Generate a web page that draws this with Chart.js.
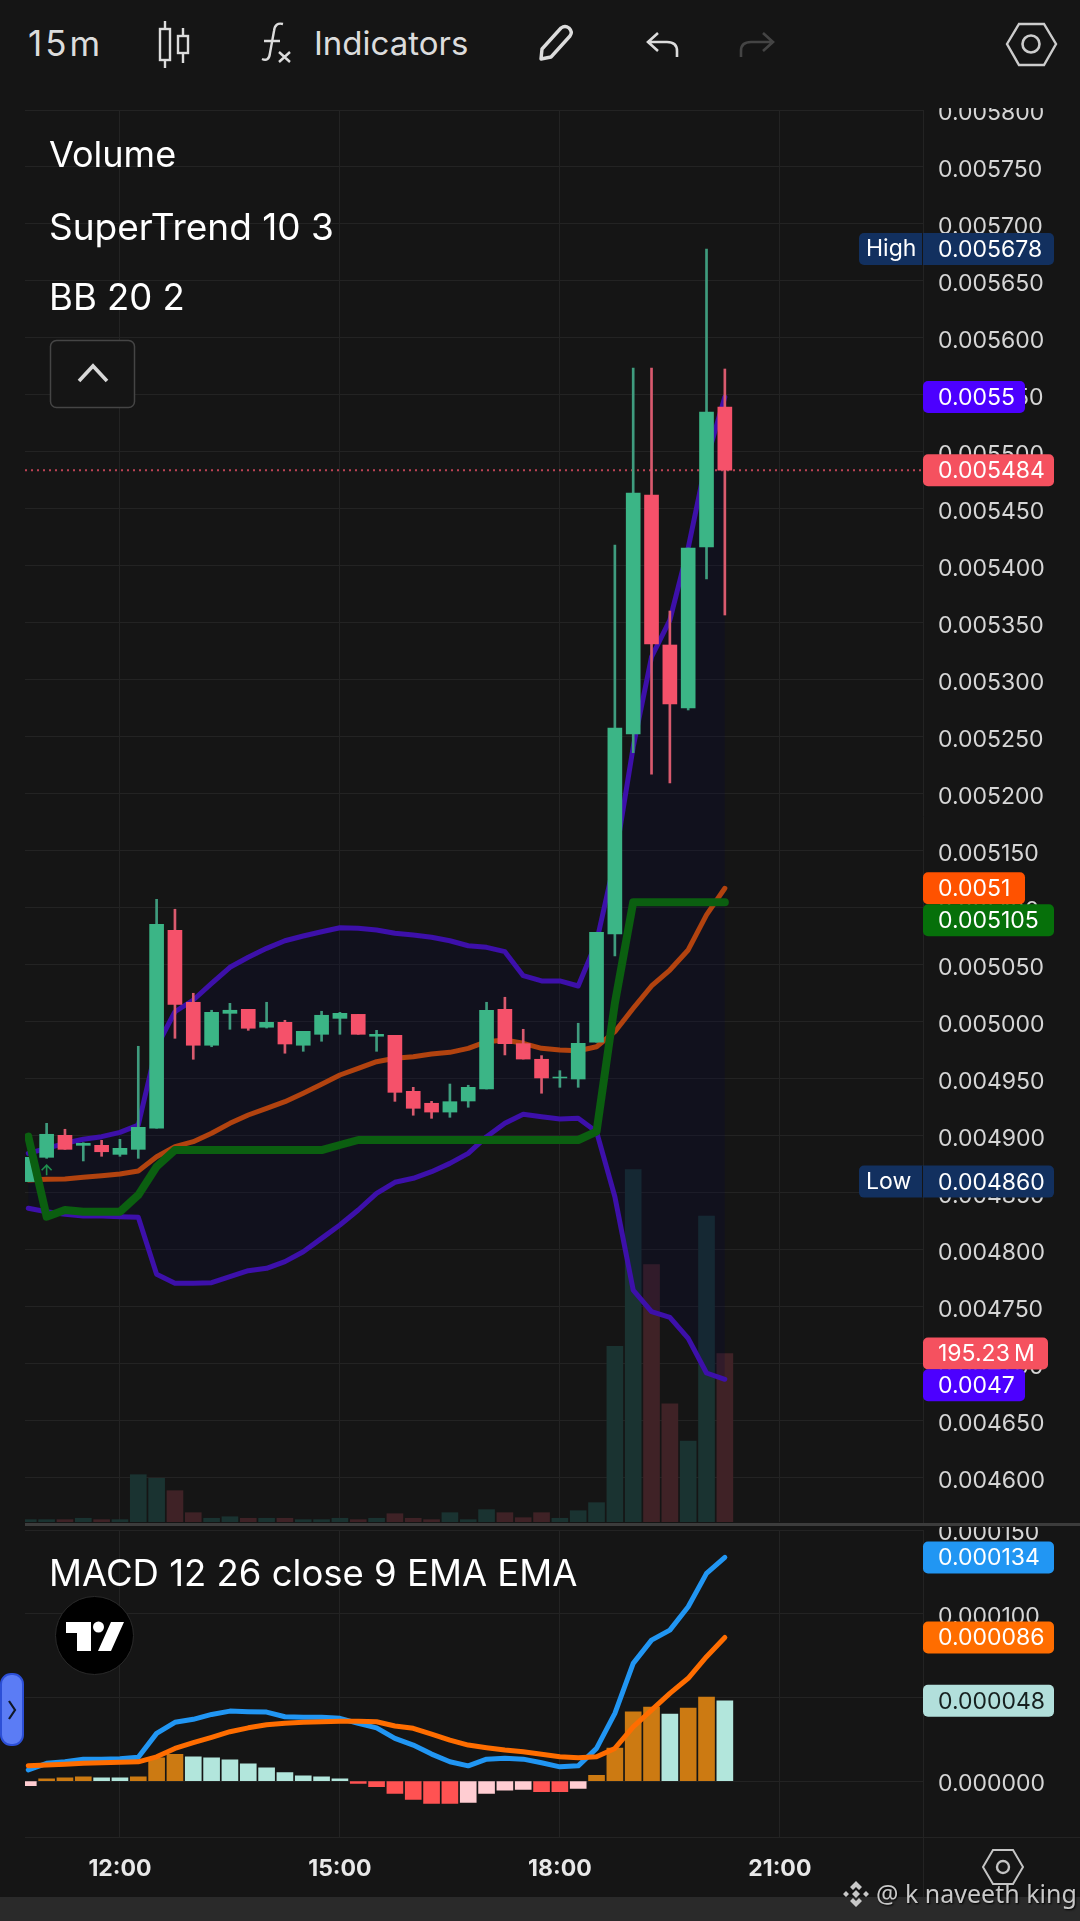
<!DOCTYPE html>
<html>
<head>
<meta charset="utf-8">
<title>15m chart</title>
<script src="https://cdn.jsdelivr.net/npm/chart.js@4/dist/chart.umd.js"></script>
<style>
  html, body { margin: 0; padding: 0; background: #151515; }
  body { width: 1080px; height: 1921px; position: relative; overflow: hidden; font-family: Inter, sans-serif; }
  canvas { position: absolute; left: 0; }
  #mainChart { top: 108px; }
  #macdChart { top: 1527px; }
  .txt { position: absolute; white-space: nowrap; line-height: 1; }
  .bar { position: absolute; }
  svg { position: absolute; left: 0; top: 0; }
</style>
</head>
<body>
<canvas id="mainChart" width="1080" height="1419"></canvas>
<canvas id="macdChart" width="1080" height="394"></canvas>

<div class="bar" style="left:0;top:1897px;width:1080px;height:24px;background:#2a2a2a"></div>
<div class="bar" style="left:25px;top:1523px;width:1055px;height:3px;background:#3c3c3c"></div>
<div class="bar" style="left:25px;top:1837px;width:1055px;height:1px;background:#232323"></div>
<div class="bar" style="left:923px;top:1837px;width:1px;height:60px;background:#232323"></div>

<div class="txt" style="left:28px;top:26px;font-size:35px;letter-spacing:3px;color:#dcdcdc">15m</div>
<div class="txt" style="left:314px;top:27px;font-size:33px;color:#dcdcdc">Indicators</div>
<div class="txt" style="left:49px;top:136px;font-size:36px;color:#fff">Volume</div>
<div class="txt" style="left:49px;top:208px;font-size:37px;color:#fff">SuperTrend 10 3</div>
<div class="txt" style="left:49px;top:279px;font-size:36.5px;color:#fff">BB 20 2</div>
<div class="txt" style="left:49px;top:1555px;font-size:36.5px;color:#fff">MACD 12 26 close 9 EMA EMA</div>
<div class="txt" style="left:876px;top:1881px;font-size:25px;color:#c8c8c8;font-family:'Noto Sans';text-shadow:1px 1px 2px #000">@ k naveeth king</div>

<svg width="1080" height="1921" viewBox="0 0 1080 1921" fill="none">
  <!-- toolbar icons -->
  <g stroke="#dcdcdc" stroke-width="2.4">
    <rect x="160" y="29" width="10" height="31"/><path d="M165 21V29M165 60V68"/>
    <rect x="178" y="36" width="10" height="17"/><path d="M183 28V36M183 53V63"/>
    <path d="M262 59q7 3 8-6L274 31q1-9 9-7M264 41H280M279 52l11 10M290 52l-11 10"/>
    <path d="M541 59l1-10 19-21q4-3 8 0q4 4 1 8l-19 21z" stroke-width="3.4" stroke-linejoin="round"/>
    <path d="M677 57v-6q0-9-10-9H650M658 33l-10 9 10 9" stroke-width="2.6"/>
    <path d="M741 57v-6q0-9 10-9H771M763 33l10 9-10 9" stroke="#444" stroke-width="2.6"/>
    <path d="M1007 44L1019 24H1044L1056 44L1044 65H1019Z" stroke="#ccc" stroke-width="2.4"/>
    <circle cx="1031" cy="44" r="8.5" stroke="#ccc" stroke-width="2.6"/>
  </g>
  <!-- collapse box -->
  <rect x="50.5" y="340.5" width="84" height="67" rx="6" stroke="#454545" stroke-width="1.5" fill="#151515"/>
  <path d="M79 381L93 366L107 381" stroke="#d8d8d8" stroke-width="3.6"/>
  <!-- logo -->
  <circle cx="94.5" cy="1635.5" r="39" fill="#000" stroke="#2a2a2a"/>
  <path d="M66 1622H91V1651H77V1633H66ZM124 1622L111 1651H98L111 1622Z" fill="#fff"/>
  <circle cx="98.5" cy="1627" r="5.5" fill="#fff"/>
  <!-- side handle -->
  <rect x="1" y="1674" width="22" height="71" rx="10" fill="#5b7cf5" stroke="#2c4fd6" stroke-width="2"/>
  <path d="M9 1701L15 1710L9 1719" stroke="#101828" stroke-width="2.2"/>
  <!-- bottom settings -->
  <path d="M983 1867L993 1850H1013L1023 1867L1013 1884H993Z" stroke="#c4c4c4" stroke-width="2"/>
  <circle cx="1003" cy="1867" r="6" stroke="#c4c4c4" stroke-width="2.4"/>
  <!-- watermark mark -->
  <g fill="#c8c8c8">
    <path d="M856 1881l6 6-3 3-3-3-3 3-3-3zM856 1907l6-6-3-3-3 3-3-3-3 3zM843 1894l3-3 3 3-3 3zM869 1894l-3-3-3 3 3 3zM856 1890l4 4-4 4-4-4z"/>
  </g>
</svg>

<script>
// candles, one per 15 minutes, first one at 10:45
var openPrices = [0.0048600, 0.0048813, 0.0049006, 0.0048918, 0.0048918, 0.0048839, 0.0048883, 0.0049068, 0.0050804, 0.0050173, 0.0049796, 0.0050076, 0.0050111, 0.0049954, 0.0049997, 0.0049796, 0.0049892, 0.0050032, 0.0050067, 0.0049875, 0.0049883, 0.0049392, 0.0049287, 0.0049210, 0.0049307, 0.0049412, 0.0050111, 0.0049810, 0.0049673, 0.0049509, 0.0049500, 0.0049822, 0.0050772, 0.0052526, 0.0054623, 0.0053307, 0.0052755, 0.0054167, 0.0055395];
var highPrices = [0.0048813, 0.0049111, 0.0049059, 0.0048941, 0.0048962, 0.0048971, 0.0049787, 0.0051076, 0.0050989, 0.0050252, 0.0050103, 0.0050164, 0.0050111, 0.0050173, 0.0050015, 0.0049918, 0.0050094, 0.0050085, 0.0050067, 0.0049927, 0.0049883, 0.0049427, 0.0049304, 0.0049456, 0.0049445, 0.0050173, 0.0050217, 0.0049936, 0.0049705, 0.0049573, 0.0049989, 0.0050787, 0.0054184, 0.0055737, 0.0055737, 0.0053605, 0.0054158, 0.0056780, 0.0055728];
var lowPrices = [0.0048600, 0.0048804, 0.0048883, 0.0048781, 0.0048822, 0.0048822, 0.0048804, 0.0049068, 0.0049857, 0.0049673, 0.0049783, 0.0049936, 0.0049927, 0.0049947, 0.0049726, 0.0049743, 0.0049831, 0.0049892, 0.0049892, 0.0049743, 0.0049304, 0.0049182, 0.0049155, 0.0049164, 0.0049252, 0.0049412, 0.0049711, 0.0049675, 0.0049375, 0.0049427, 0.0049427, 0.0049822, 0.0050579, 0.0052362, 0.0052175, 0.0052097, 0.0052737, 0.0053886, 0.0053570];
var closePrices = [0.0048813, 0.0049015, 0.0048883, 0.0048936, 0.0048862, 0.0048892, 0.0049076, 0.0050857, 0.0050155, 0.0049796, 0.0050085, 0.0050103, 0.0049945, 0.0049997, 0.0049807, 0.0049918, 0.0050059, 0.0050076, 0.0049892, 0.0049892, 0.0049383, 0.0049243, 0.0049210, 0.0049301, 0.0049427, 0.0050103, 0.0049810, 0.0049675, 0.0049509, 0.0049517, 0.0049813, 0.0050787, 0.0052579, 0.0054640, 0.0053316, 0.0052790, 0.0054158, 0.0055351, 0.0054840];

// volume in millions
var volumes = [2.7, 2.7, 2.7, 4.3, 2.7, 2.7, 54.8, 50.6, 36.3, 10.8, 4.3, 6.1, 4.3, 4.3, 4.3, 2.7, 2.7, 4.3, 2.7, 4.3, 9.6, 4.3, 2.7, 10.8, 2.7, 14.3, 10.8, 5.0, 10.8, 4.3, 13.1, 22.4, 203.6, 408.4, 298.3, 137.1, 93.9, 354.7, 195.23];

// indicators on the price pane
var bbUpper = [0.0048848, 0.0048892, 0.0048936, 0.0048971, 0.0048994, 0.0049032, 0.0049096, 0.0049783, 0.0050090, 0.0050193, 0.0050339, 0.0050480, 0.0050568, 0.0050646, 0.0050713, 0.0050754, 0.0050792, 0.0050827, 0.0050822, 0.0050807, 0.0050778, 0.0050763, 0.0050743, 0.0050713, 0.0050669, 0.0050655, 0.0050617, 0.0050406, 0.0050360, 0.0050360, 0.0050316, 0.0050702, 0.0051421, 0.0052412, 0.0053202, 0.0053526, 0.0054158, 0.0054930, 0.0055482];
var bbBasis = [0.0048614, 0.0048620, 0.0048623, 0.0048638, 0.0048652, 0.0048667, 0.0048693, 0.0048818, 0.0048906, 0.0048950, 0.0049024, 0.0049111, 0.0049184, 0.0049243, 0.0049301, 0.0049375, 0.0049453, 0.0049535, 0.0049594, 0.0049652, 0.0049682, 0.0049696, 0.0049719, 0.0049734, 0.0049769, 0.0049827, 0.0049842, 0.0049813, 0.0049769, 0.0049754, 0.0049748, 0.0049783, 0.0049915, 0.0050120, 0.0050316, 0.0050456, 0.0050632, 0.0050939, 0.0051173];
var bbLower = [0.0048366, 0.0048336, 0.0048313, 0.0048298, 0.0048298, 0.0048292, 0.0048287, 0.0047787, 0.0047708, 0.0047708, 0.0047713, 0.0047766, 0.0047818, 0.0047839, 0.0047898, 0.0047985, 0.0048102, 0.0048219, 0.0048351, 0.0048497, 0.0048594, 0.0048629, 0.0048687, 0.0048760, 0.0048848, 0.0048994, 0.0049111, 0.0049190, 0.0049169, 0.0049149, 0.0049155, 0.0049038, 0.0048467, 0.0047649, 0.0047459, 0.0047409, 0.0047225, 0.0046921, 0.0046866];
var superTrend = [0.0048994, 0.0048292, 0.0048351, 0.0048336, 0.0048336, 0.0048336, 0.0048482, 0.0048731, 0.0048877, 0.0048877, 0.0048877, 0.0048877, 0.0048877, 0.0048877, 0.0048877, 0.0048877, 0.0048877, 0.0048921, 0.0048965, 0.0048965, 0.0048965, 0.0048965, 0.0048965, 0.0048965, 0.0048965, 0.0048965, 0.0048965, 0.0048965, 0.0048965, 0.0048965, 0.0048965, 0.0049038, 0.0050164, 0.0051050, 0.0051050, 0.0051050, 0.0051050, 0.0051050, 0.0051050];

// MACD pane
var macdLine = [0.0000066, 0.0000106, 0.0000115, 0.0000130, 0.0000130, 0.0000133, 0.0000142, 0.0000285, 0.0000351, 0.0000369, 0.0000398, 0.0000418, 0.0000414, 0.0000412, 0.0000384, 0.0000381, 0.0000381, 0.0000375, 0.0000345, 0.0000318, 0.0000255, 0.0000215, 0.0000161, 0.0000115, 0.0000091, 0.0000131, 0.0000136, 0.0000131, 0.0000109, 0.0000085, 0.0000091, 0.0000195, 0.0000404, 0.0000703, 0.0000842, 0.0000902, 0.0001041, 0.0001241, 0.0001336];
var signalLine = [0.0000091, 0.0000096, 0.0000100, 0.0000106, 0.0000109, 0.0000112, 0.0000115, 0.0000145, 0.0000195, 0.0000229, 0.0000261, 0.0000295, 0.0000318, 0.0000336, 0.0000346, 0.0000351, 0.0000354, 0.0000358, 0.0000358, 0.0000354, 0.0000329, 0.0000315, 0.0000281, 0.0000245, 0.0000215, 0.0000199, 0.0000185, 0.0000175, 0.0000160, 0.0000145, 0.0000139, 0.0000145, 0.0000195, 0.0000324, 0.0000424, 0.0000524, 0.0000614, 0.0000743, 0.0000858];
var macdHist = [-0.0000028, 0.0000014, 0.0000020, 0.0000026, 0.0000020, 0.0000020, 0.0000026, 0.0000139, 0.0000159, 0.0000145, 0.0000139, 0.0000127, 0.0000103, 0.0000079, 0.0000050, 0.0000032, 0.0000026, 0.0000014, -0.0000014, -0.0000034, -0.0000074, -0.0000110, -0.0000133, -0.0000133, -0.0000127, -0.0000074, -0.0000054, -0.0000050, -0.0000064, -0.0000064, -0.0000044, 0.0000034, 0.0000197, 0.0000413, 0.0000442, 0.0000400, 0.0000436, 0.0000502, 0.0000480];

// ticks
var priceTicks = [0.0046, 0.00465, 0.0047, 0.00475, 0.0048, 0.00485, 0.0049, 0.00495, 0.005, 0.00505, 0.0051, 0.00515, 0.0052, 0.00525, 0.0053, 0.00535, 0.0054, 0.00545, 0.0055, 0.00555, 0.0056, 0.00565, 0.0057, 0.00575, 0.0058];
var macdTicks = [0, 0.00005, 0.0001, 0.00015];
var timeTickIdx = [5, 17, 29, 41];
var timeTickLabels = ['12:00', '15:00', '18:00', '21:00'];

var lastPrice = 0.005484;
var buySignalPrice = 0.00487;

var GRID = '#232323';
var UP = '#3bb586', DOWN = '#f5516a', UP_WICK = '#3f9c7e', DOWN_WICK = '#d95a6e';
var UP_VOL = '#1a3331', DOWN_VOL = '#3f2226';
var AXIS_FONT = { family: 'Inter', size: 23 };

function points(arr) {
  return arr.map(function (v, i) { return { x: i, y: v }; });
}
function isUp(i) { return closePrices[i] >= openPrices[i]; }

function roundTag(ctx, x, y, w, h, r, color) {
  ctx.fillStyle = color;
  ctx.beginPath();
  ctx.roundRect(x, y, w, h, [r, r, r, r]);
  ctx.fill();
}

// price labels on the right side, shift moves a tag off its neighbour
function drawTags(chart, tags) {
  var ctx = chart.ctx, right = chart.chartArea.right;
  ctx.save();
  ctx.font = '23px Inter';
  ctx.textBaseline = 'middle';
  tags.forEach(function (t) {
    var y = chart.scales[t.axis || 'y'].getPixelForValue(t.value) + (t.shift || 0);
    var left = t.side ? right - 64 : right;
    roundTag(ctx, left, y - 16, right + t.w - left, 32, 5, t.color);
    ctx.fillStyle = t.ink || '#fff';
    ctx.textAlign = 'left';
    ctx.fillText(t.text, right + 15, y + 1);
    if (t.side) {
      ctx.fillText(t.side, right - 57, y);
      ctx.fillStyle = '#151515';
      ctx.fillRect(right - 1, y - 16, 1, 32);
    }
  });
  ctx.restore();
}

var mainTags = [
  { text: '0.005678', side: 'High', value: 0.005678, w: 131, color: '#12305f' },
  { text: '0.0055', value: bbUpper[38], w: 102, color: '#4c00ff' },
  { text: '0.005484', value: lastPrice, w: 131, color: '#f5515f' },
  { text: '0.0051', value: bbBasis[38], w: 102, color: '#ff5200' },
  { text: '0.005105', value: superTrend[38], w: 131, color: '#06700a', shift: 18 },
  { text: '0.004860', side: 'Low', value: 0.00486, w: 131, color: '#12305f' },
  { text: '195.23\u2009M', axis: 'vol', value: volumes[38], w: 125, color: '#f5515f' },
  { text: '0.0047', value: bbLower[38], w: 102, color: '#4c00ff', shift: 6 }
];
var macdTags = [
  { text: '0.000134', value: macdLine[38], w: 131, color: '#2196f3' },
  { text: '0.000086', value: signalLine[38], w: 131, color: '#ff6d00' },
  { text: '0.000048', value: macdHist[38], w: 131, color: '#b2dfdb', ink: '#16201f' }
];

// the price labels sit a little below their grid lines
var nudgeLabels = {
  id: 'nudgeLabels',
  beforeDraw: function (chart) {
    chart.scales.y.getLabelItems().forEach(function (item) {
      item.options.translation[1] += 3;
    });
  }
};

var mainTagPlugin = {
  id: 'mainTags',
  afterDraw: function (chart) {
    // small buy arrow of the SuperTrend
    var ctx = chart.ctx;
    var ax = chart.scales.x.getPixelForValue(1), ay = chart.scales.y.getPixelForValue(buySignalPrice);
    ctx.save();
    ctx.strokeStyle = '#1f8f4e';
    ctx.lineWidth = 1.6;
    ctx.beginPath();
    ctx.moveTo(ax, ay + 5); ctx.lineTo(ax, ay - 4);
    ctx.moveTo(ax - 5, ay); ctx.lineTo(ax, ay - 5); ctx.lineTo(ax + 5, ay);
    ctx.stroke();
    ctx.restore();
    drawTags(chart, mainTags);
  }
};
var macdTagPlugin = {
  id: 'macdTags',
  afterDraw: function (chart) { drawTags(chart, macdTags); }
};

function priceLine(values, color, width, order, extra) {
  return Object.assign({
    type: 'line', data: points(values), borderColor: color, borderWidth: width,
    pointRadius: 0, tension: 0, fill: false, order: order,
    borderCapStyle: 'round', borderJoinStyle: 'round', yAxisID: 'y'
  }, extra || {});
}

function xScale(labels) {
  return {
    type: 'linear', min: -0.18, max: 48.81, offset: false,
    grid: { color: GRID, drawTicks: false, offset: false },
    border: { display: false },
    afterBuildTicks: function (s) { s.ticks = timeTickIdx.map(function (v) { return { value: v }; }); },
    afterFit: function (s) {
      s.height = labels ? 83.7 : 0;
      s.paddingLeft = 0; s.paddingRight = 0;
    },
    ticks: labels ? {
      autoSkip: false, maxRotation: 0, padding: 18, color: '#e8e8e8',
      font: { family: 'Inter', size: 23, weight: 'bold' },
      callback: function (v) { return timeTickLabels[timeTickIdx.indexOf(v)]; }
    } : { display: false }
  };
}

function yScale(min, max, tickList) {
  return {
    position: 'right', min: min, max: max,
    grid: { color: GRID, drawTicks: false },
    border: { color: GRID },
    afterBuildTicks: function (s) { s.ticks = tickList.map(function (v) { return { value: v }; }); },
    // tick padding would otherwise inset the plot area
    afterFit: function (s) {
      s.width = 157;
      s.paddingTop = 0; s.paddingBottom = 0;
    },
    ticks: {
      autoSkip: false, padding: 15, color: '#d6d6d6', font: AXIS_FONT,
      callback: function (v) { return v.toFixed(6); }
    }
  };
}

new Chart(document.getElementById('mainChart'), {
  type: 'bar',
  data: {
    datasets: [
      {
        data: points(volumes), yAxisID: 'vol', grouped: false, barThickness: 16, order: 10,
        backgroundColor: volumes.map(function (v, i) { return isUp(i) ? UP_VOL : DOWN_VOL; })
      },
      priceLine(bbUpper, '#3d10aa', 5, 9, { fill: '+1', backgroundColor: 'rgba(10,10,60,0.24)' }),
      priceLine(bbLower, '#3d10aa', 5, 8),
      priceLine(bbBasis, '#b2430f', 5, 7),
      priceLine([lastPrice, lastPrice], 'rgba(245,81,106,0.75)', 2, 6, {
        data: [{ x: -0.18, y: lastPrice }, { x: 48.81, y: lastPrice }], borderDash: [2, 4], borderCapStyle: 'butt'
      }),
      {
        data: lowPrices.map(function (v, i) { return { x: i, y: [v, highPrices[i]] }; }),
        yAxisID: 'y', grouped: false, barThickness: 2, order: 5,
        backgroundColor: lowPrices.map(function (v, i) { return isUp(i) ? UP_WICK : DOWN_WICK; })
      },
      {
        data: openPrices.map(function (v, i) { return { x: i, y: [v, closePrices[i]] }; }),
        yAxisID: 'y', grouped: false, barThickness: 14, order: 4,
        backgroundColor: openPrices.map(function (v, i) { return isUp(i) ? UP : DOWN; })
      },
      priceLine(superTrend, '#0b5f10', 8, 3)
    ]
  },
  options: {
    responsive: false, animation: false, devicePixelRatio: 1,
    layout: { padding: { left: 25, right: 0, top: 2, bottom: 5 } },
    plugins: { legend: { display: false }, tooltip: { enabled: false } },
    scales: {
      x: xScale(false),
      y: yScale(0.0045614, 0.0058, priceTicks),
      vol: { display: false, min: 0, max: 1636.5 }
    }
  },
  plugins: [nudgeLabels, mainTagPlugin]
});

new Chart(document.getElementById('macdChart'), {
  type: 'bar',
  data: {
    datasets: [
      {
        data: points(macdHist), grouped: false, barThickness: 16, order: 3,
        backgroundColor: macdHist.map(function (v, i) {
          var prev = macdHist[i - 1];
          if (i === 0) return '#ffcdd2';
          if (v >= 0) return v > prev ? '#cc7a12' : '#b2e6dc';
          return v <= prev ? '#ff5252' : '#ffcdd2';
        })
      },
      priceLine(macdLine, '#2196f3', 5, 2),
      priceLine(signalLine, '#ff6d00', 5, 1)
    ]
  },
  options: {
    responsive: false, animation: false, devicePixelRatio: 1,
    layout: { padding: { left: 25, right: 0, top: 3, bottom: 0 } },
    plugins: { legend: { display: false }, tooltip: { enabled: false } },
    scales: {
      x: xScale(true),
      y: yScale(-0.0000336, 0.00015, macdTicks)
    }
  },
  plugins: [nudgeLabels, macdTagPlugin]
});
</script>
</body>
</html>
